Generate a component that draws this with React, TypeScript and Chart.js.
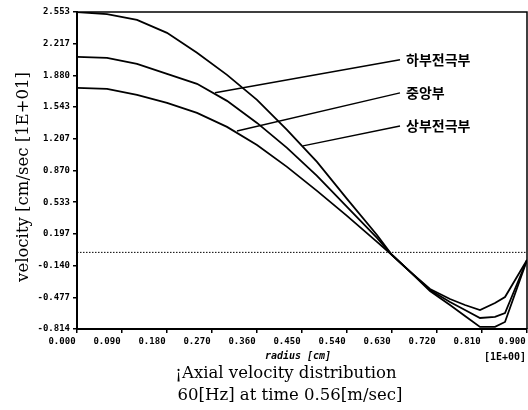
import React, { useEffect, useRef } from "react";
import { Chart, registerables } from "chart.js";

Chart.register(...registerables);

// radius [cm] (x 1E+00)
const radius = [0, 0.06, 0.12, 0.18, 0.24, 0.3, 0.36, 0.42, 0.48, 0.54, 0.6, 0.63, 0.666, 0.706, 0.746, 0.776, 0.806, 0.836, 0.856, 0.9];
// velocity [cm/sec] (x 1E+01)
const upperElectrode = [2.553, 2.53, 2.47, 2.332, 2.119, 1.885, 1.62, 1.301, 0.961, 0.568, 0.185, -0.028, -0.204, -0.41, -0.559, -0.676, -0.792, -0.792, -0.739, -0.081];
const lowerElectrode = [2.077, 2.066, 2.002, 1.896, 1.79, 1.609, 1.375, 1.11, 0.812, 0.483, 0.153, -0.028, -0.204, -0.4, -0.527, -0.612, -0.697, -0.686, -0.644, -0.081];
const centerPart = [1.747, 1.736, 1.673, 1.588, 1.481, 1.333, 1.141, 0.908, 0.653, 0.387, 0.111, -0.028, -0.204, -0.389, -0.495, -0.559, -0.612, -0.538, -0.474, -0.081];

const yTickValues = [-0.814, -0.477, -0.14, 0.197, 0.533, 0.87, 1.207, 1.543, 1.88, 2.217, 2.553];
const yTickLabels = ["-0.814", "-0.477", "-0.140", "0.197", "0.533", "0.870", "1.207", "1.543", "1.880", "2.217", "2.553"];
const xTickValues = [0, 0.09, 0.18, 0.27, 0.36, 0.45, 0.54, 0.63, 0.72, 0.81, 0.9];
const xTickLabels = ["0.000", "0.090", "0.180", "0.270", "0.360", "0.450", "0.540", "0.630", "0.720", "0.810", "0.900"];

// callout labels: text, label anchor (data), curve anchor (data)
const calloutLabels = ["하부전극부", "중앙부", "상부전극부"];
const calloutStartX = [0.646, 0.646, 0.646];
const calloutStartY = [2.045, 1.694, 1.343];
const calloutEndX = [0.276, 0.32, 0.452];
const calloutEndY = [1.695, 1.29, 1.131];

const titleLines = ["¡Axial velocity distribution", "60[Hz] at time 0.56[m/sec]"];
const yTitle = "velocity [cm/sec [1E+01]";
const xTitle = "radius [cm]";
const xUnit = "[1E+00]";

const toPoints = (ys: number[]) => ys.map((y, i) => ({ x: radius[i], y }));

export default function App() {
  const ref = useRef<HTMLCanvasElement | null>(null);

  useEffect(() => {
    if (!ref.current) return;

    const textPlugin = {
      id: "texts",
      afterDraw(chart: any) {
        const { ctx, chartArea, scales } = chart;
        ctx.save();
        // frame top & right
        ctx.strokeStyle = "#000";
        ctx.lineWidth = 1.5;
        ctx.beginPath();
        ctx.moveTo(chartArea.left, chartArea.top);
        ctx.lineTo(chartArea.right, chartArea.top);
        ctx.lineTo(chartArea.right, chartArea.bottom);
        ctx.stroke();

        ctx.fillStyle = "#000";
        // callout labels
        ctx.font = "bold 14px 'Noto Sans CJK KR'";
        ctx.textAlign = "left";
        ctx.textBaseline = "middle";
        calloutLabels.forEach((t, i) => {
          const px = scales.x.getPixelForValue(calloutStartX[i]);
          const py = scales.y.getPixelForValue(calloutStartY[i]);
          ctx.fillText(t, px + 6, py);
        });

        // x title and unit
        ctx.font = "italic bold 10px 'DejaVu Sans Mono'";
        ctx.textAlign = "center";
        ctx.fillText(xTitle, (chartArea.left + chartArea.right) / 2 - 4, chartArea.bottom + 27);
        ctx.font = "bold 10px 'DejaVu Sans Mono'";
        ctx.fillText(xUnit, chartArea.right - 22, chartArea.bottom + 28);

        // bottom title
        ctx.font = "16.5px 'DejaVu Serif'";
        ctx.fillText(titleLines[0], 286, chartArea.bottom + 45);
        ctx.fillText(titleLines[1], 290, chartArea.bottom + 67);

        // y title
        ctx.translate(24, 177);
        ctx.rotate(-Math.PI / 2);
        ctx.fillText(yTitle, 0, 0);
        ctx.restore();
      },
    };

    const lineStyle = {
      borderColor: "#000",
      backgroundColor: "#000",
      borderWidth: 1.8,
      pointRadius: 0,
      tension: 0,
      fill: false,
    };

    const chart = new Chart(ref.current, {
      type: "line",
      data: {
        datasets: [
          { label: "상부전극부", data: toPoints(upperElectrode), ...lineStyle },
          { label: "하부전극부", data: toPoints(lowerElectrode), ...lineStyle },
          { label: "중앙부", data: toPoints(centerPart), ...lineStyle },
          {
            label: "zero",
            data: [{ x: 0, y: 0 }, { x: 0.9, y: 0 }],
            ...lineStyle,
            borderWidth: 1,
            borderDash: [1.5, 1.5],
          },
          ...calloutLabels.map((t, i) => ({
            label: "callout " + t,
            data: [
              { x: calloutEndX[i], y: calloutEndY[i] },
              { x: calloutStartX[i], y: calloutStartY[i] },
            ],
            ...lineStyle,
            borderWidth: 1.5,
          })),
        ],
      },
      options: {
        animation: false,
        responsive: false,
        maintainAspectRatio: false,
        layout: { padding: { top: 12, right: 1, left: 0, bottom: 0 } },
        plugins: { legend: { display: false }, tooltip: { enabled: false } },
        scales: {
          x: {
            type: "linear",
            min: 0,
            max: 0.9,
            afterFit: (s: any) => {
              s.height = 81;
              s.paddingLeft = 0;
              s.paddingRight = 0;
            },
            afterBuildTicks: (s: any) => {
              s.ticks = xTickValues.map((v) => ({ value: v }));
            },
            ticks: {
              autoSkip: false,
              maxRotation: 0,
              minRotation: 0,
              labelOffset: -15,
              padding: 3,
              color: "#000",
              font: { family: "'DejaVu Sans Mono'", size: 9, weight: "bold" },
              callback: (_v: any, i: number) => xTickLabels[i],
            },
            grid: { drawOnChartArea: false, drawTicks: true, tickLength: 4, color: "#000", lineWidth: 1.5 },
            border: { display: true, color: "#000", width: 2 },
          },
          y: {
            type: "linear",
            min: -0.814,
            max: 2.553,
            afterFit: (s: any) => {
              s.width = 77;
              s.paddingTop = 0;
              s.paddingBottom = 0;
            },
            afterBuildTicks: (s: any) => {
              s.ticks = yTickValues.map((v) => ({ value: v }));
            },
            ticks: {
              autoSkip: false,
              padding: 3,
              color: "#000",
              font: { family: "'DejaVu Sans Mono'", size: 9, weight: "bold" },
              callback: (_v: any, i: number) => yTickLabels[i],
            },
            grid: { drawOnChartArea: false, drawTicks: true, tickLength: 4, color: "#000", lineWidth: 1.5 },
            border: { display: true, color: "#000", width: 2 },
          },
        },
      },
      plugins: [textPlugin],
    });

    return () => chart.destroy();
  }, []);

  return (
    <div style={{ position: "fixed", left: 0, top: 0, width: 528, height: 410, background: "#fff" }}>
      <canvas ref={ref} width={528} height={410} style={{ display: "block" }} />
    </div>
  );
}
